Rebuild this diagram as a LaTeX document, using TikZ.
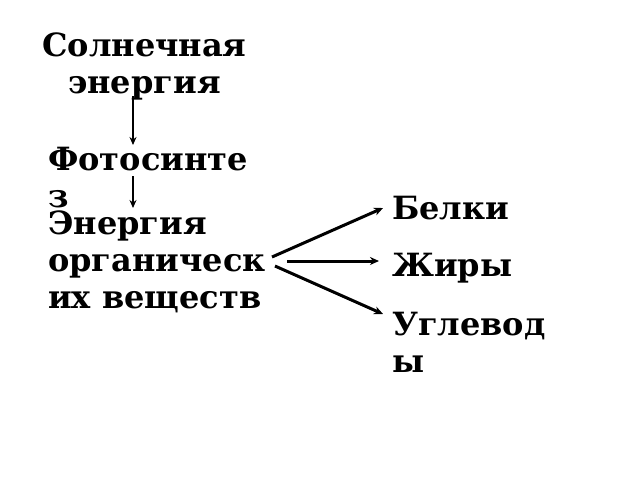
\documentclass[tikz,border=0pt]{standalone}
\usepackage{fontspec}
\setmainfont{DejaVu Serif}
\usetikzlibrary{arrows.meta}
\begin{document}
\begin{tikzpicture}[x=1pt,y=-1pt,
  lbl/.style={font=\bfseries\fontsize{32}{37}\selectfont, inner sep=0pt, anchor=base west},
  conn/.style={line width=3pt, -{Stealth[length=9pt,width=8pt]}},
  vconn/.style={line width=2.5pt, -{Stealth[length=8pt,width=7pt]}}]
\useasboundingbox[fill=white] (0,0) rectangle (640,480);
\node[lbl, align=center] (sun) at (42,93) {Солнечная\\энергия};
\node[lbl, align=left] (foto) at (48,207) {Фотосинте\\з};
\node[lbl, align=left] (energy) at (48,308) {Энергия\\органическ\\их веществ};
\node[lbl] (belki) at (392,219) {Белки};
\node[lbl] (zhiry) at (392,276) {Жиры};
\node[lbl, align=left] (ugl) at (392,372) {Углевод\\ы};
\coordinate (a1s) at (133,96);
\coordinate (a1e) at (133,145);
\coordinate (a2s) at (133,176);
\coordinate (a2e) at (133,208);
\coordinate (b1s) at (272,257);
\coordinate (b1e) at (383,208);
\coordinate (b2s) at (287,261);
\coordinate (b2e) at (379,261);
\coordinate (b3s) at (275,266);
\coordinate (b3e) at (383,314);
\draw[vconn] (a1s) -- (a1e);
\draw[vconn] (a2s) -- (a2e);
\draw[conn] (b1s) -- (b1e);
\draw[conn] (b2s) -- (b2e);
\draw[conn] (b3s) -- (b3e);
\end{tikzpicture}
\end{document}
